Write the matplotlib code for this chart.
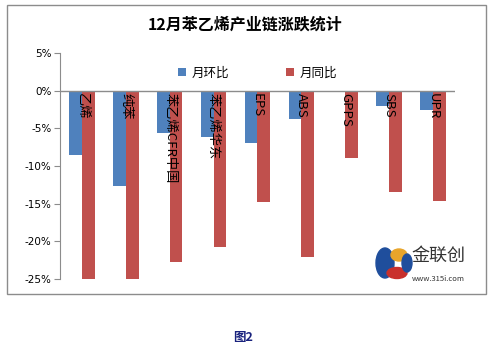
import matplotlib.pyplot as plt
import matplotlib.patches as mpatches
import numpy as np

plt.rcParams['font.family'] = ['Noto Sans CJK SC', 'DejaVu Sans']

# data
categories = ["乙烯", "纯苯", "苯乙烯CFR中国", "苯乙烯华东", "EPS", "ABS", "GPPS", "SBS", "UPR"]
mom = [-8.6, -12.6, -5.6, -6.1, -7.0, -3.7, 0.0, -2.0, -2.6]      # 月环比
yoy = [-25.0, -25.0, -22.8, -20.7, -14.8, -22.1, -9.0, -13.4, -14.6]  # 月同比
yticks = [5, 0, -5, -10, -15, -20, -25]

blue = "#4F81BD"
red = "#C0504D"

fig = plt.figure(figsize=(4.96, 3.52), dpi=100)
W, H = 496, 352

# outer chart frame
frame = mpatches.Rectangle((7 / W, 1 - 294 / H), (486 - 7) / W, (294 - 5) / H,
                           transform=fig.transFigure, fill=False,
                           edgecolor="#8c8c8c", linewidth=1.0)
fig.patches.append(frame)

ax = fig.add_axes([60 / W, 1 - 279 / H, (455 - 60) / W, (279 - 53) / H])
x = np.arange(len(categories))
w = 0.29
ax.bar(x - w / 2, mom, w, color=blue, label="月环比", zorder=2)
ax.bar(x + w / 2, yoy, w, color=red, label="月同比", zorder=2)

ax.set_xlim(-0.5, len(categories) - 0.5)
ax.set_ylim(-25, 5)
ax.set_yticks(yticks)
ax.set_yticklabels([f"{t}%" for t in yticks], fontsize=7.5, family="DejaVu Sans")
ax.set_xticks([])
ax.axhline(0, color="#8c8c8c", linewidth=1.0, zorder=3)
for s in ["top", "right", "bottom"]:
    ax.spines[s].set_visible(False)
ax.spines["left"].set_color("#8c8c8c")
ax.tick_params(axis="y", length=4, color="#8c8c8c", pad=2)

# category labels written downwards just under zero line
for i, c in enumerate(categories):
    ax.text(i, -0.3, c, rotation=-90, ha="center", va="top", fontsize=9.5,
            zorder=4)

leg = ax.legend(loc="upper center", bbox_to_anchor=(0.5, 0.99), ncol=2, frameon=False,
                fontsize=9, handlelength=0.65, handleheight=0.65, columnspacing=4.5,
                handletextpad=0.5)

fig.text(245 / W, 1 - 25 / H, "12月苯乙烯产业链涨跌统计", ha="center", va="center",
         fontsize=11.5, fontweight="bold")

# logo
lx, ly = 385 / W, 1 - 263 / H
fig.patches.append(mpatches.Ellipse((lx, ly), 18 / W, 30 / H, transform=fig.transFigure,
                                    color="#1f4e9c"))
fig.patches.append(mpatches.Ellipse((lx + 14 / W, ly + 8 / H), 16 / W, 12 / H,
                                    transform=fig.transFigure, color="#e8a52b"))
fig.patches.append(mpatches.Ellipse((lx + 12 / W, ly - 10 / H), 20 / W, 11 / H,
                                    transform=fig.transFigure, color="#c9302c"))
fig.patches.append(mpatches.Ellipse((lx + 22 / W, ly), 10 / W, 18 / H,
                                    transform=fig.transFigure, color="#1f4e9c"))
fig.text(438 / W, 1 - 256 / H, "金联创", ha="center", va="center", fontsize=13,
         color="#333333")
fig.text(438 / W, 1 - 279 / H, "www.315i.com", ha="center", va="center", fontsize=5.5,
         color="#333333")

fig.text(243 / W, 1 - 338 / H, "图2", ha="center", va="center", fontsize=9,
         fontweight="bold", color="#1a237e")

fig.savefig("out.png", dpi=100)
